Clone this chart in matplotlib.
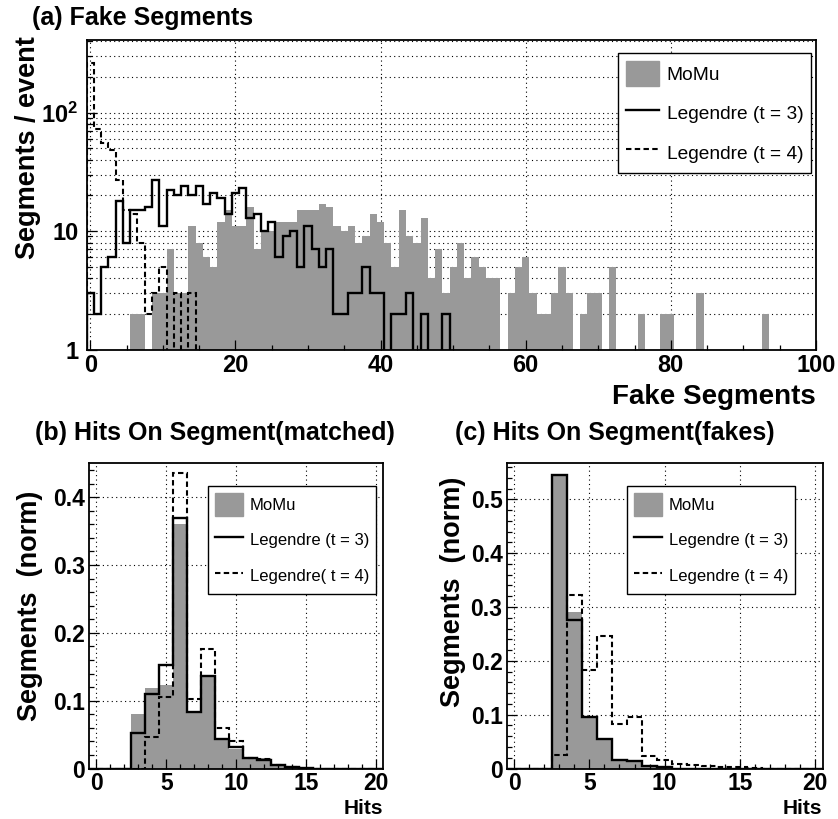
import numpy as np
import matplotlib
matplotlib.use("Agg")
import matplotlib.pyplot as plt
from matplotlib.ticker import MultipleLocator, FixedLocator, NullFormatter, FuncFormatter
from matplotlib.patches import Patch
from matplotlib.lines import Line2D

plt.rcParams['font.family'] = ['Liberation Sans', 'DejaVu Sans']
plt.rcParams['font.weight'] = 'bold'
plt.rcParams['mathtext.fontset'] = 'custom'
plt.rcParams['mathtext.rm'] = 'Liberation Sans'
plt.rcParams['mathtext.bf'] = 'Liberation Sans:bold'

# ---- data ----
# (a) fake segments per event, one bin per integer 0..99
fake_momu = [0, 0, 0, 0, 0, 0, 2, 2, 0, 3,
             3, 7, 3, 3, 11, 8, 6, 5, 12, 15,
             11, 11, 16, 7, 10, 10, 12, 12, 12, 15,
             15, 15, 17, 16, 11, 10, 11, 8, 9, 14,
             12, 8, 5, 15, 9, 8, 13, 4, 7, 3,
             5, 8, 4, 6, 5, 4, 4, 0, 3, 5,
             6, 3, 2, 2, 3, 5, 3, 0, 2, 3,
             3, 0, 5, 0, 0, 0, 2, 0, 0, 2,
             2, 0, 0, 0, 3, 0, 0, 0, 0, 0,
             0, 0, 0, 2, 0, 0, 0, 0, 0, 0]
fake_leg3 = [3, 2, 5, 6, 18, 8, 15, 15, 16, 27,
             11, 22, 20, 24, 20, 24, 17, 21, 19, 14,
             21, 23, 13, 14, 10, 12, 6, 9, 10, 5,
             11, 7, 5, 7, 2, 2, 3, 3, 5, 3,
             3, 0, 2, 2, 3, 0, 2, 0, 0, 2] + [0] * 50
fake_leg4 = [260, 72, 55, 48, 27, 15, 14, 8, 2, 3,
             5, 0, 3, 0, 3] + [0] * 85

# (b), (c) hits on segment, bins 0..20
hits = list(range(21))
matched_momu = [0, 0, 0, 0.081, 0.118, 0.123, 0.360, 0.083, 0.137, 0.042,
                0.029, 0.016, 0.015, 0.005, 0.002, 0, 0, 0, 0, 0, 0]
matched_leg3 = [0, 0, 0, 0.052, 0.110, 0.153, 0.369, 0.083, 0.137, 0.043,
                0.032, 0.015, 0.012, 0.005, 0.0015, 0.0005, 0, 0, 0, 0, 0]
matched_leg4 = [0, 0, 0, 0, 0.046, 0.106, 0.435, 0.102, 0.176, 0.059,
                0.040, 0.016, 0.014, 0.005, 0.002, 0, 0, 0, 0, 0, 0]
fakes_momu = [0, 0, 0, 0.543, 0.291, 0.095, 0.053, 0.016, 0.014, 0.004,
              0.002, 0, 0, 0, 0, 0, 0, 0, 0, 0, 0]
fakes_leg3 = [0, 0, 0, 0.545, 0.275, 0.095, 0.055, 0.016, 0.014, 0.004,
              0.002, 0, 0, 0, 0, 0, 0, 0, 0, 0, 0]
fakes_leg4 = [0, 0, 0, 0.025, 0.323, 0.183, 0.247, 0.083, 0.095, 0.024,
              0.016, 0.009, 0.006, 0.004, 0.003, 0.002, 0.001, 0, 0, 0, 0]

# ---- styling ----
GREY = '#999999'
DASH = (0, (2.6, 1.6))
GRID = dict(colors='k', linestyles=[(0, (1, 3))], linewidths=0.8, zorder=0.5)

W, H = 838, 819
fig = plt.figure(figsize=(W / 100, H / 100), dpi=100)


def px_axes(l, t, r, b):
    return fig.add_axes([l / W, 1 - b / H, (r - l) / W, (b - t) / H])


def frame(ax, size):
    for s in ax.spines.values():
        s.set_linewidth(1.3)
    ax.tick_params(which='both', direction='in', top=False, right=False,
                   labelsize=size, width=0.9)
    ax.tick_params(which='major', length=7.5)
    ax.tick_params(which='minor', length=3.8)


def draw_hists(ax, edges, momu, leg3, leg4):
    ax.stairs(momu, edges, fill=True, color=GREY, zorder=1)
    ax.stairs(leg3, edges, color='k', lw=1.7, zorder=2)
    ax.stairs(leg4, edges, color='k', lw=1.5, linestyle=DASH, zorder=3)


def legend(ax, x, y, labels, size, hh, sp):
    handles = [Patch(facecolor=GREY, edgecolor=GREY),
               Line2D([], [], color='k', lw=1.7),
               Line2D([], [], color='k', lw=1.5, linestyle=DASH)]
    leg = ax.legend(handles, labels, loc='upper left',
                    bbox_to_anchor=(x / W, 1 - y / H), bbox_transform=fig.transFigure,
                    prop={'size': size, 'weight': 'normal'}, frameon=True, fancybox=False,
                    framealpha=1, edgecolor='k', borderaxespad=0, borderpad=0.42,
                    handlelength=1.72, handleheight=hh, handletextpad=0.4,
                    labelspacing=sp)
    leg.get_frame().set_linewidth(1.0)


# ---- (a) fake segments ----
ax = px_axes(86.7, 40, 816, 349.5)
edges_a = np.arange(len(fake_momu) + 1) - 0.5
ax.set_yscale('log')
draw_hists(ax, edges_a, fake_momu, fake_leg3, fake_leg4)
ax.set_xlim(-0.5, 100)
ax.set_ylim(1, 410)
ax.xaxis.set_major_locator(MultipleLocator(20))
ax.xaxis.set_minor_locator(MultipleLocator(5))
ax.yaxis.set_major_locator(FixedLocator([1, 10, 100]))
ax.yaxis.set_major_formatter(FuncFormatter(
    lambda v, p: {1: '1', 10: '10', 100: r'$\mathbf{10^{2}}$'}.get(int(round(v)), '')))
ygrid_a = [k * 10 ** e for e in range(3) for k in range(1, 10) if k * 10 ** e < 410]
ax.yaxis.set_minor_locator(FixedLocator(ygrid_a))
ax.yaxis.set_minor_formatter(NullFormatter())
ax.vlines(np.arange(0, 101, 20), 0, 1, transform=ax.get_xaxis_transform(), **GRID)
ax.hlines(ygrid_a[1:], 0, 1, transform=ax.get_yaxis_transform(), **GRID)
frame(ax, 17)
ax.tick_params(axis='y', pad=6)
legend(ax, 618, 52.7, ['MoMu', 'Legendre (t = 3)', 'Legendre (t = 4)'], 13.8, 1.67, 0.73)
fig.text(31.7 / W, 1 - 18.3 / H, '(a) Fake Segments', fontsize=18, ha='left', va='center')
fig.text(28 / W, 1 - 148 / H, 'Segments / event', fontsize=19.5, rotation=90,
         ha='center', va='center')
fig.text(816 / W, 1 - 397 / H, 'Fake Segments', fontsize=20, ha='right', va='center')

# ---- (b) and (c) hits on segment ----
edges_h = np.arange(len(hits) + 1) - 0.5
fmt_h = FuncFormatter(lambda v, p: '0' if abs(v) < 1e-9 else '%.1f' % v)
panels = [
    ((89.3, 463.3, 383, 768.5), matched_momu, matched_leg3, matched_leg4, 0.45,
     '(b) Hits On Segment(matched)', 35, 30, 606, 383,
     ['MoMu', 'Legendre (t = 3)', 'Legendre( t = 4)'], 207.7),
    ((506.7, 463.3, 822.5, 768.5), fakes_momu, fakes_leg3, fakes_leg4, 0.567,
     '(c) Hits On Segment(fakes)', 455, 453, 592, 822.5,
     ['MoMu', 'Legendre (t = 3)', 'Legendre (t = 4)'], 626.7),
]
for rect, momu, leg3, leg4, ytop, title, tx, lx, ly, hx, labels, legx in panels:
    ax = px_axes(*rect)
    draw_hists(ax, edges_h, momu, leg3, leg4)
    ax.set_xlim(-0.5, 20.5)
    ax.set_ylim(0, ytop)
    ax.xaxis.set_major_locator(MultipleLocator(5))
    ax.xaxis.set_minor_locator(MultipleLocator(1))
    ax.yaxis.set_major_locator(MultipleLocator(0.1))
    ax.yaxis.set_minor_locator(MultipleLocator(0.02))
    ax.yaxis.set_major_formatter(fmt_h)
    ax.vlines(np.arange(0, 21, 5), 0, 1, transform=ax.get_xaxis_transform(), **GRID)
    ax.hlines(np.arange(0.1, ytop, 0.1), 0, 1, transform=ax.get_yaxis_transform(), **GRID)
    frame(ax, 16.5)
    ax.tick_params(axis='y', pad=3)
    ax.tick_params(axis='x', pad=2.5)
    legend(ax, legx, 486, labels, 12, 1.7, 0.8)
    fig.text(tx / W, 1 - 433 / H, title, fontsize=18, ha='left', va='center')
    fig.text(lx / W, 1 - ly / H, 'Segments  (norm)', fontsize=19.5, rotation=90,
             ha='center', va='center')
    fig.text(hx / W, 1 - 808.5 / H, 'Hits', fontsize=15, ha='right', va='center')

fig.savefig('out.png', dpi=100)
